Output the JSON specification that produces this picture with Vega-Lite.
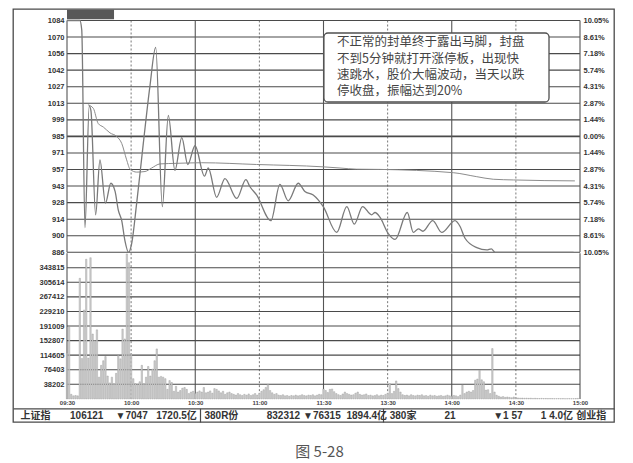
{
  "$schema": "https://vega.github.io/schema/vega-lite/v6.json",
  "width": 601,
  "height": 413,
  "autosize": {"type": "none"},
  "padding": {"left": 13, "top": 9, "right": 19, "bottom": 41},
  "background": "white",
  "config": {
    "view": {"stroke": "#4a4a4a", "strokeWidth": 1.3},
    "font": "Liberation Sans",
    "axis": {"labelFont": "Liberation Sans", "labelFontWeight": "bold", "labelColor": "#333333", "domain": false, "ticks": false, "grid": false, "labelOverlap": false, "labelFlush": false, "labelBound": false}
  },
  "title": {"text": "图 5-28", "orient": "bottom", "anchor": "middle", "offset": 22, "fontSize": 15, "font": "Noto Sans CJK SC", "fontWeight": "normal", "color": "#555555", "dx": 6},
  "datasets": {
    "pgrid": [{"p": 886}, {"p": 900.143}, {"p": 914.286}, {"p": 928.429}, {"p": 942.571}, {"p": 956.714}, {"p": 970.857}, {"p": 985}, {"p": 999.143}, {"p": 1013.286}, {"p": 1027.429}, {"p": 1041.571}, {"p": 1055.714}, {"p": 1069.857}, {"p": 1084}],
    "vgrid": [{"v": 38202}, {"v": 76403}, {"v": 114605}, {"v": 152807}, {"v": 191009}, {"v": 229210}, {"v": 267412}, {"v": 305614}, {"v": 343815}],
    "vlines": [{"t": 0}, {"t": 30}, {"t": 60}, {"t": 90}, {"t": 120}, {"t": 150}, {"t": 180}, {"t": 210}, {"t": 240}],
    "note": [{"text": "不正常的封单终于露出马脚，封盘\n不到5分钟就打开涨停板，出现快\n速跳水，股价大幅波动，当天以跌\n停收盘，振幅达到20%"}],
    "price": [
      {"t": 0, "p": 1084}, {"t": 6, "p": 1084}, {"t": 6.9, "p": 1076}, {"t": 8.4, "p": 907}, {"t": 10.4, "p": 1011}, {"t": 11.2, "p": 1007},
      {"t": 13.4, "p": 918}, {"t": 15.4, "p": 965}, {"t": 18, "p": 928}, {"t": 20.5, "p": 945}, {"t": 22.5, "p": 938}, {"t": 24, "p": 922},
      {"t": 25.6, "p": 913}, {"t": 27.1, "p": 896}, {"t": 28.8, "p": 886}, {"t": 30.2, "p": 893}, {"t": 32.6, "p": 928}, {"t": 35.7, "p": 979},
      {"t": 38.8, "p": 1028}, {"t": 41.5, "p": 1061}, {"t": 44.6, "p": 925}, {"t": 47.4, "p": 1003}, {"t": 50.5, "p": 956}, {"t": 53.7, "p": 984},
      {"t": 56.5, "p": 961}, {"t": 59.9, "p": 977}, {"t": 64.3, "p": 951}, {"t": 66.1, "p": 958}, {"t": 70, "p": 933}, {"t": 73.9, "p": 949},
      {"t": 79.4, "p": 932}, {"t": 83.7, "p": 948}, {"t": 85.6, "p": 942}, {"t": 88.7, "p": 935}, {"t": 95.4, "p": 913}, {"t": 99.6, "p": 944},
      {"t": 103.5, "p": 930}, {"t": 108.2, "p": 945}, {"t": 111.3, "p": 938}, {"t": 115.2, "p": 935}, {"t": 119.9, "p": 925}, {"t": 126.2, "p": 903},
      {"t": 130.9, "p": 925}, {"t": 134.4, "p": 910}, {"t": 138.3, "p": 925}, {"t": 142.5, "p": 918}, {"t": 144.1, "p": 920}, {"t": 146.4, "p": 916},
      {"t": 150.3, "p": 902}, {"t": 153.5, "p": 897}, {"t": 159.2, "p": 920}, {"t": 162, "p": 903}, {"t": 164.4, "p": 906}, {"t": 166.5, "p": 904},
      {"t": 171.1, "p": 913}, {"t": 175.3, "p": 903}, {"t": 181.5, "p": 913}, {"t": 183.9, "p": 908}, {"t": 186.2, "p": 898}, {"t": 191.7, "p": 890},
      {"t": 196.4, "p": 888}, {"t": 198.5, "p": 889}, {"t": 200.3, "p": 886}, {"t": 237, "p": 886}
    ],
    "avg": [
      {"t": 9.8, "p": 1012}, {"t": 12.3, "p": 1009}, {"t": 14.6, "p": 996}, {"t": 17, "p": 993}, {"t": 20.1, "p": 988}, {"t": 23.2, "p": 985},
      {"t": 25.6, "p": 979}, {"t": 27.9, "p": 965}, {"t": 29.5, "p": 957}, {"t": 32.6, "p": 954.5}, {"t": 36.5, "p": 955}, {"t": 39.6, "p": 958},
      {"t": 43.5, "p": 961.5}, {"t": 51.3, "p": 962}, {"t": 63, "p": 962.5}, {"t": 88.7, "p": 961}, {"t": 119.8, "p": 959}, {"t": 127.7, "p": 958},
      {"t": 135.5, "p": 957}, {"t": 146.4, "p": 956.8}, {"t": 180.7, "p": 954}, {"t": 191.7, "p": 950.6}, {"t": 199.4, "p": 948.4}, {"t": 208.8, "p": 947.8},
      {"t": 237.6, "p": 947}
    ],
    "vol": [
      {"t":0,"v":120000},{"t":1,"v":188000},{"t":2,"v":12000},{"t":3,"v":8000},{"t":4,"v":9000},{"t":5,"v":8000},{"t":6,"v":316000},{"t":7,"v":106000},{"t":8,"v":233000},{"t":9,"v":366000},
      {"t":10,"v":107000},{"t":11,"v":370000},{"t":12,"v":170000},{"t":13,"v":153000},{"t":14,"v":181000},{"t":15,"v":57000},{"t":16,"v":88000},{"t":17,"v":100000},{"t":18,"v":111000},{"t":19,"v":60000},
      {"t":20,"v":42000},{"t":21,"v":57000},{"t":22,"v":40000},{"t":23,"v":67000},{"t":24,"v":114000},{"t":25,"v":105000},{"t":26,"v":183000},{"t":27,"v":157000},{"t":28,"v":380000},{"t":29,"v":357000},
      {"t":30,"v":118000},{"t":31,"v":53000},{"t":32,"v":40000},{"t":33,"v":38000},{"t":34,"v":45000},{"t":35,"v":88000},{"t":36,"v":40000},{"t":37,"v":57000},{"t":38,"v":85000},{"t":39,"v":60000},
      {"t":40,"v":78000},{"t":41,"v":100000},{"t":42,"v":131000},{"t":43,"v":57000},{"t":44,"v":59000},{"t":45,"v":57000},{"t":46,"v":53000},{"t":47,"v":25000},{"t":48,"v":48000},{"t":49,"v":43000},
      {"t":50,"v":20000},{"t":51,"v":33000},{"t":52,"v":18000},{"t":53,"v":22000},{"t":54,"v":28000},{"t":55,"v":30000},{"t":56,"v":25000},{"t":57,"v":14000},{"t":58,"v":18000},{"t":59,"v":20000},
      {"t":60,"v":14000},{"t":61,"v":18000},{"t":62,"v":21000},{"t":63,"v":18000},{"t":64,"v":30000},{"t":65,"v":16000},{"t":66,"v":18000},{"t":67,"v":21000},{"t":68,"v":15000},{"t":69,"v":27000},
      {"t":70,"v":25000},{"t":71,"v":21000},{"t":72,"v":16000},{"t":73,"v":20000},{"t":74,"v":12000},{"t":75,"v":16000},{"t":76,"v":18000},{"t":77,"v":14000},{"t":78,"v":12000},{"t":79,"v":10000},
      {"t":80,"v":14000},{"t":81,"v":11000},{"t":82,"v":9000},{"t":83,"v":12000},{"t":84,"v":10000},{"t":85,"v":13000},{"t":86,"v":9000},{"t":87,"v":11000},{"t":88,"v":14000},{"t":89,"v":10000},
      {"t":90,"v":15000},{"t":91,"v":20000},{"t":92,"v":24000},{"t":93,"v":30000},{"t":94,"v":38000},{"t":95,"v":22000},{"t":96,"v":16000},{"t":97,"v":12000},{"t":98,"v":14000},{"t":99,"v":10000},
      {"t":100,"v":9000},{"t":101,"v":11000},{"t":102,"v":8000},{"t":103,"v":9000},{"t":104,"v":7000},{"t":105,"v":9000},{"t":106,"v":8000},{"t":107,"v":10000},{"t":108,"v":8000},{"t":109,"v":9000},
      {"t":110,"v":11000},{"t":111,"v":9000},{"t":112,"v":8000},{"t":113,"v":10000},{"t":114,"v":9000},{"t":115,"v":11000},{"t":116,"v":8000},{"t":117,"v":10000},{"t":118,"v":12000},{"t":119,"v":11000},
      {"t":120,"v":26000},{"t":121,"v":22000},{"t":122,"v":17000},{"t":123,"v":25000},{"t":124,"v":26000},{"t":125,"v":19000},{"t":126,"v":14000},{"t":127,"v":11000},{"t":128,"v":9000},{"t":129,"v":13000},
      {"t":130,"v":18000},{"t":131,"v":14000},{"t":132,"v":12000},{"t":133,"v":10000},{"t":134,"v":11000},{"t":135,"v":15000},{"t":136,"v":18000},{"t":137,"v":12000},{"t":138,"v":10000},{"t":139,"v":11000},
      {"t":140,"v":13000},{"t":141,"v":9000},{"t":142,"v":10000},{"t":143,"v":8000},{"t":144,"v":9000},{"t":145,"v":11000},{"t":146,"v":8000},{"t":147,"v":10000},{"t":148,"v":9000},{"t":149,"v":12000},
      {"t":150,"v":15000},{"t":151,"v":40000},{"t":152,"v":14000},{"t":153,"v":20000},{"t":154,"v":47000},{"t":155,"v":27000},{"t":156,"v":18000},{"t":157,"v":11000},{"t":158,"v":9000},{"t":159,"v":10000},
      {"t":160,"v":8000},{"t":161,"v":11000},{"t":162,"v":9000},{"t":163,"v":8000},{"t":164,"v":10000},{"t":165,"v":9000},{"t":166,"v":11000},{"t":167,"v":8000},{"t":168,"v":9000},{"t":169,"v":7000},
      {"t":170,"v":10000},{"t":171,"v":8000},{"t":172,"v":9000},{"t":173,"v":7000},{"t":174,"v":8000},{"t":175,"v":9000},{"t":176,"v":7000},{"t":177,"v":8000},{"t":178,"v":10000},{"t":179,"v":8000},
      {"t":180,"v":7000},{"t":181,"v":9000},{"t":182,"v":8000},{"t":183,"v":6000},{"t":184,"v":10000},{"t":185,"v":36000},{"t":186,"v":14000},{"t":187,"v":18000},{"t":188,"v":20000},{"t":189,"v":18000},
      {"t":190,"v":22000},{"t":191,"v":49000},{"t":192,"v":52000},{"t":193,"v":75000},{"t":194,"v":50000},{"t":195,"v":45000},{"t":196,"v":23000},{"t":197,"v":24000},{"t":198,"v":14000},{"t":199,"v":132000},
      {"t":200,"v":18000},{"t":201,"v":9600},{"t":202,"v":7000},{"t":203,"v":5000},{"t":204,"v":6000},{"t":205,"v":4000},{"t":206,"v":5000},{"t":207,"v":4000},{"t":208,"v":3000},{"t":209,"v":5000},
      {"t":210,"v":3000},{"t":211,"v":2500},{"t":212,"v":2000},{"t":213,"v":2200},{"t":214,"v":1800},{"t":215,"v":2000},{"t":216,"v":1500},{"t":217,"v":1800},{"t":218,"v":1200},{"t":219,"v":1500},
      {"t":220,"v":1200},{"t":221,"v":1000},{"t":222,"v":1300},{"t":223,"v":900},{"t":224,"v":1100},{"t":225,"v":800},{"t":226,"v":1000},{"t":227,"v":900},{"t":228,"v":700},{"t":229,"v":800},
      {"t":230,"v":900},{"t":231,"v":700},{"t":232,"v":800},{"t":233,"v":600},{"t":234,"v":700},{"t":235,"v":800},{"t":236,"v":600},{"t":237,"v":700},{"t":238,"v":900},{"t":239,"v":1200}
    ]
  },
  "layer": [
    {
      "data": {"name": "pgrid"},
      "mark": {"type": "rule", "color": "#4a4a4a"},
      "encoding": {
        "x": {"datum": 0, "type": "quantitative", "scale": {"domain": [-25.263, 255.906], "nice": false, "zero": false, "padding": 0}, "axis": null},
        "x2": {"datum": 240},
        "y": {"field": "p", "type": "quantitative", "scale": {"domain": [741.05, 1093.82], "nice": false, "zero": false}, "axis": null},
        "detail": {"field": "p", "type": "nominal"},
        "strokeWidth": {"condition": {"test": "datum.p == 985", "value": 1.8}, "value": 1.1}
      }
    },
    {
      "data": {"name": "vlines"},
      "mark": {"type": "rule", "color": "#555555"},
      "encoding": {
        "x": {"field": "t", "type": "quantitative", "scale": {"domain": [-25.263, 255.906], "nice": false, "zero": false, "padding": 0}, "axis": null},
        "y": {"datum": 1084, "type": "quantitative", "scale": {"domain": [741.05, 1093.82], "nice": false, "zero": false}, "axis": null},
        "y2": {"datum": 886},
        "strokeDash": {"condition": {"test": "datum.t % 60 == 30", "value": [2, 2]}, "value": [1, 0]},
        "strokeWidth": {"condition": {"test": "datum.t % 60 == 30", "value": 0.8}, "value": 1.1}
      }
    },
    {
      "data": {"values": [{}]},
      "mark": {"type": "rect", "color": "#585858"},
      "encoding": {
        "x": {"datum": 0, "type": "quantitative", "scale": {"domain": [-25.263, 255.906], "nice": false, "zero": false, "padding": 0}, "axis": null},
        "x2": {"datum": 22},
        "y": {"datum": 1085, "type": "quantitative", "scale": {"domain": [741.05, 1093.82], "nice": false, "zero": false}, "axis": null},
        "y2": {"datum": 1093.2}
      }
    },
    {
      "data": {"name": "avg"},
      "mark": {"type": "line", "color": "#8c8c8c", "strokeWidth": 1, "interpolate": "monotone"},
      "encoding": {
        "x": {"field": "t", "type": "quantitative", "scale": {"domain": [-25.263, 255.906], "nice": false, "zero": false, "padding": 0}, "axis": null},
        "y": {"field": "p", "type": "quantitative", "scale": {"domain": [741.05, 1093.82], "nice": false, "zero": false},
              "axis": {"orient": "left", "offset": -54, "title": null, "values": [886, 900.143, 914.286, 928.429, 942.571, 956.714, 970.857, 985, 999.143, 1013.286, 1027.429, 1041.571, 1055.714, 1069.857, 1084], "labelExpr": "format(datum.value, '.0f')", "labelFontSize": 7.5, "labelPadding": 3}}
      }
    },
    {
      "data": {"values": [{}]},
      "mark": {"type": "rect", "fill": "white", "stroke": "#505050", "strokeWidth": 1.3, "cornerRadius": 4},
      "encoding": {
        "x": {"datum": 120.2, "type": "quantitative", "scale": {"domain": [-25.263, 255.906], "nice": false, "zero": false, "padding": 0}, "axis": null},
        "x2": {"datum": 225.5},
        "y": {"datum": 1073.3, "type": "quantitative", "scale": {"domain": [741.05, 1093.82], "nice": false, "zero": false}, "axis": null},
        "y2": {"datum": 1014.4}
      }
    },
    {
      "data": {"name": "note"},
      "mark": {"type": "text", "align": "left", "baseline": "top", "font": "Noto Sans CJK SC", "fontSize": 12.5, "lineHeight": 16.3, "color": "#444444", "lineBreak": "\n"},
      "encoding": {
        "x": {"datum": 126.3, "type": "quantitative", "scale": {"domain": [-25.263, 255.906], "nice": false, "zero": false, "padding": 0}, "axis": null},
        "y": {"datum": 1070.5, "type": "quantitative", "scale": {"domain": [741.05, 1093.82], "nice": false, "zero": false}, "axis": null},
        "text": {"field": "text"}
      }
    },
    {
      "data": {"name": "price"},
      "mark": {"type": "line", "color": "#7a7a7a", "strokeWidth": 1.3, "interpolate": "monotone"},
      "encoding": {
        "x": {"field": "t", "type": "quantitative", "scale": {"domain": [-25.263, 255.906], "nice": false, "zero": false, "padding": 0}, "axis": null},
        "y": {"field": "p", "type": "quantitative", "scale": {"domain": [741.05, 1093.82], "nice": false, "zero": false},
              "axis": {"orient": "right", "offset": -34, "title": null, "values": [886, 900.143, 914.286, 928.429, 942.571, 956.714, 970.857, 985, 999.143, 1013.286, 1027.429, 1041.571, 1055.714, 1069.857, 1084], "labelExpr": "format(abs(datum.value - 985) / 985 * 100, '.2f') + '%'", "labelFontSize": 7.5, "labelPadding": 3, "labelAlign": "left"}}
      }
    },
    {
      "data": {"name": "vlines"},
      "mark": {"type": "rule", "color": "#555555"},
      "encoding": {
        "x": {"field": "t", "type": "quantitative", "scale": {"domain": [-25.263, 255.906], "nice": false, "zero": false, "padding": 0},
              "axis": {"orient": "bottom", "offset": -23.1, "title": null, "values": [0, 30, 60, 90, 120, 150, 180, 210, 240], "labelExpr": "['09:30','10:00','10:30','11:00','11:30','13:30','14:00','14:30','15:00'][round(datum.value / 30)]", "labelFontSize": 6, "labelPadding": 0.5, "labelColor": "#444444"}},
        "y": {"datum": 382017, "type": "quantitative", "scale": {"domain": [-60545, 1021928], "nice": false, "zero": false}, "axis": null},
        "y2": {"datum": 0},
        "strokeDash": {"condition": {"test": "datum.t % 60 == 30", "value": [2, 2]}, "value": [1, 0]},
        "strokeWidth": {"condition": {"test": "datum.t % 60 == 30", "value": 0.8}, "value": 1.1}
      }
    },
    {
      "data": {"name": "vgrid"},
      "mark": {"type": "rule", "color": "#4a4a4a", "strokeWidth": 1.1},
      "encoding": {
        "x": {"datum": 0, "type": "quantitative", "scale": {"domain": [-25.263, 255.906], "nice": false, "zero": false, "padding": 0}, "axis": null},
        "x2": {"datum": 240},
        "y": {"field": "v", "type": "quantitative", "scale": {"domain": [-60545, 1021928], "nice": false, "zero": false}, "axis": null},
        "detail": {"field": "v", "type": "nominal"}
      }
    },
    {
      "data": {"name": "vol"},
      "mark": {"type": "bar", "width": 1.4, "color": "#d0d0d0", "stroke": "#959595", "strokeWidth": 0.4},
      "encoding": {
        "x": {"field": "t", "type": "quantitative", "scale": {"domain": [-25.263, 255.906], "nice": false, "zero": false, "padding": 0},
              "axis": {"orient": "bottom", "offset": -13.7, "title": null,
                       "values": [-15, 9, 30, 51, 62, 72, 101, 119, 140, 148, 157, 179, 206, 229, 245],
                       "labelExpr": "['上证指','106121','▼7047','1720.5亿','','380R份','832312','▼76315','1894.4亿','','380家','21','▼1 57','1 4.0亿','创业指'][indexof([-15, 9, 30, 51, 62, 72, 101, 119, 140, 148, 157, 179, 206, 229, 245], datum.value)]",
                       "labelFont": "Liberation Sans, Noto Sans CJK SC", "labelFontSize": 10, "labelFontWeight": "bold", "labelColor": "#333333",
                       "domain": true, "domainColor": "#4a4a4a", "domainWidth": 1.2,
                       "ticks": true, "tickSize": 13.7, "tickColor": "#4a4a4a", "tickWidth": 1.2,
                       "tickOpacity": {"condition": {"test": "datum.value == 62 || datum.value == 148", "value": 1}, "value": 0},
                       "labelPadding": -11.5}},
        "y": {"field": "v", "type": "quantitative", "scale": {"domain": [-60545, 1021928], "nice": false, "zero": false},
              "axis": {"orient": "left", "offset": -54, "title": null, "values": [38202, 76403, 114605, 152807, 191009, 229210, 267412, 305614, 343815], "format": "d", "labelFontSize": 7.5, "labelPadding": 3}},
        "y2": {"datum": 0}
      }
    }
  ],
  "resolve": {"scale": {"x": "independent", "y": "independent"}}
}
